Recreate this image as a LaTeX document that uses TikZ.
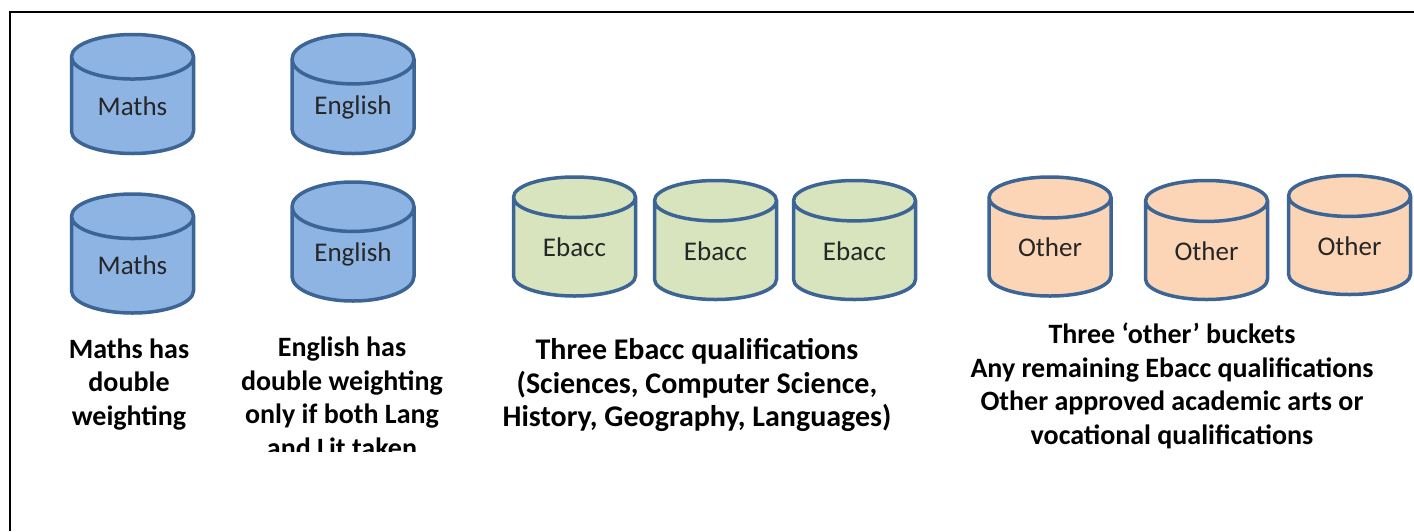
\documentclass[tikz,border=0pt]{standalone}
\usepackage{fontspec}
\setmainfont{Carlito}
\usetikzlibrary{shapes.geometric}
\definecolor{edge}{RGB}{60, 100, 148}
\definecolor{blu}{RGB}{141, 180, 227}
\definecolor{grn}{RGB}{215, 228, 189}
\definecolor{orn}{RGB}{251, 213, 181}
\tikzset{
	bucket/.style={cylinder, shape border rotate=90, draw=edge, line width=3.5pt,
		minimum width=122pt, minimum height=119pt, aspect=0.64, inner sep=0pt,
		anchor=shape center, text=black!85, font=\fontsize{27}{30}\selectfont},
	caption/.style={align=center, font=\bfseries\fontsize{28}{33.5}\selectfont}
}
\begin{document}
\begin{tikzpicture}[x=1pt,y=-1pt] % pixel grid, y downwards
				\useasboundingbox (0,0) rectangle (1414,531);
				\draw[line width=2pt] (10,531)--(10,12)--(1414,12); % le cadre
				% doubles
				\node[bucket, fill=blu] (maths1) at (132.5,94) {Maths};
				\node[bucket, fill=blu] (english1) at (353,94) {English};
				\node[bucket, fill=blu] (maths2) at (132.5,253.5) {Maths};
				\node[bucket, fill=blu] (english2) at (353,241.5) {English};
				% Ebacc et autres
				\foreach \n/\x/\y in {1/574.5/236.5, 2/715.5/240, 3/854.5/240}{
					\node[bucket, fill=grn] (ebacc\n) at (\x,\y) {Ebacc};}
				\foreach \n/\x/\y in {1/1050/236.5, 2/1206.5/240, 3/1349.5/235}{
					\node[bucket, fill=orn] (other\n) at (\x,\y) {Other};}
				% legendes
				\node[caption] (mathstxt) at (129,384.5) {Maths has\\double\\weighting};
				\begin{scope}
					\clip (0,0) rectangle (1414,451);
					\node[caption] (englishtxt) at (342,397.5) {English has\\double weighting\\only if both Lang\\and Lit taken};
				\end{scope}
				\node[caption, font=\bfseries\fontsize{30}{33.5}\selectfont] (ebacctxt) at (697,385) {Three Ebacc qualifications\\(Sciences, Computer Science,\\History, Geography, Languages)};
				\node[caption] (othertxt) at (1172,386) {Three ‘other’ buckets\\Any remaining Ebacc qualifications\\Other approved academic arts or\\vocational qualifications};
			\end{tikzpicture}
\end{document}
